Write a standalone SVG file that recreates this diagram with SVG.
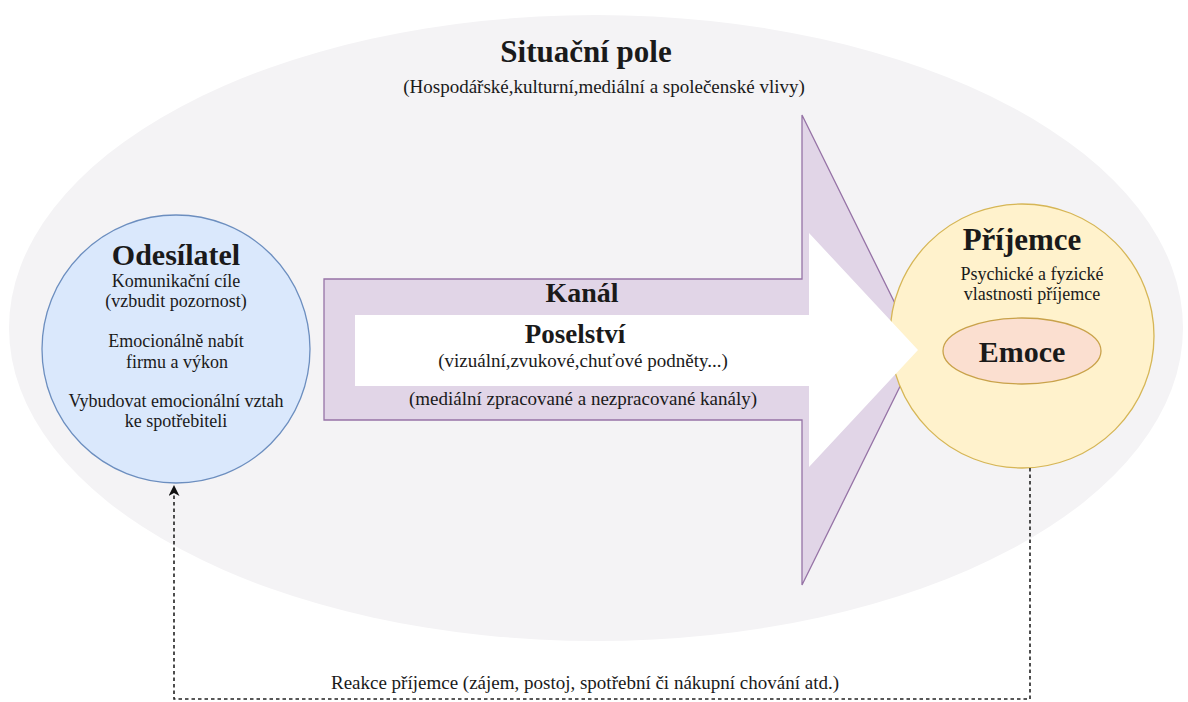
<svg xmlns="http://www.w3.org/2000/svg" width="1188" height="702" viewBox="0 0 1188 702">
<defs>
<style>
text{font-family:"Liberation Serif","Times New Roman",serif;fill:#1a1a1a;text-anchor:middle}
.t{font-weight:bold}
.s{font-size:18px}
.m{font-size:19px}
.edge{fill:none;stroke:#222222;stroke-width:1.6;stroke-dasharray:3.5 3}
</style>
<marker id="ah" markerWidth="11" markerHeight="11" refX="10" refY="5.5" orient="auto" markerUnits="userSpaceOnUse">
<path d="M0,0 L11,5.5 L0,11 L3,5.5 Z" fill="#111"/>
</marker>
</defs>
<rect width="1188" height="702" fill="#ffffff"/>
<g id="situacni-pole">
<ellipse cx="596" cy="328" rx="587" ry="313" fill="#f4f3f5"/>
<text class="t" x="586" y="62" font-size="31">Situační pole</text>
<text class="m" x="604" y="93">(Hospodářské,kulturní,mediální a společenské vlivy)</text>
</g>
<g id="kanal">
<polygon points="324,279 802,279 802,115 918,350 802,585 802,420 324,420" fill="#e1d5e7" stroke="#9673a6" stroke-width="1.3"/>
</g>
<g id="odesilatel">
<circle cx="176" cy="349" r="134" fill="#dae8fc" stroke="#6c8ebf" stroke-width="1.3"/>
<text class="t" x="176" y="265" font-size="30">Odesílatel</text>
<text class="s" x="176" y="287">Komunikační cíle</text>
<text class="s" x="176" y="307">(vzbudit pozornost)</text>
<text class="s" x="176" y="347">Emocionálně nabít</text>
<text class="s" x="177" y="368">firmu a výkon</text>
<text class="s" x="176" y="407">Vybudovat emocionální vztah</text>
<text class="s" x="176" y="427">ke spotřebiteli</text>
</g>
<g id="prijemce">
<circle cx="1022" cy="336" r="132" fill="#fff2cc" stroke="#d6b656" stroke-width="1.3"/>
<text class="t" x="1022" y="250" font-size="31">Příjemce</text>
<text class="s" x="1032" y="280">Psychické a fyzické</text>
<text class="s" x="1032" y="300">vlastnosti příjemce</text>
</g>
<g id="poselstvi">
<polygon points="355,315 809,315 809,233 918,350 809,467 809,386 355,386" fill="#ffffff"/>
<text class="t" x="582" y="302" font-size="28">Kanál</text>
<text class="t" x="575" y="343" font-size="27">Poselství</text>
<text class="m" x="583" y="367">(vizuální,zvukové,chuťové podněty...)</text>
<text class="m" x="583" y="405">(mediální zpracované a nezpracované kanály)</text>
</g>
<g id="emoce">
<ellipse cx="1022" cy="351" rx="79" ry="33" fill="#fbdfd0" stroke="#c9a24a" stroke-width="1.3"/>
<text class="t" x="1022" y="362" font-size="30">Emoce</text>
</g>
<g id="connectors">
<path class="edge" d="M1030,468 L1030,699 L174,699 L174,486" marker-end="url(#ah)"/>
<text class="m" x="585" y="689" fill="#2a2a2a">Reakce příjemce (zájem, postoj, spotřební či nákupní chování atd.)</text>
</g>
</svg>
